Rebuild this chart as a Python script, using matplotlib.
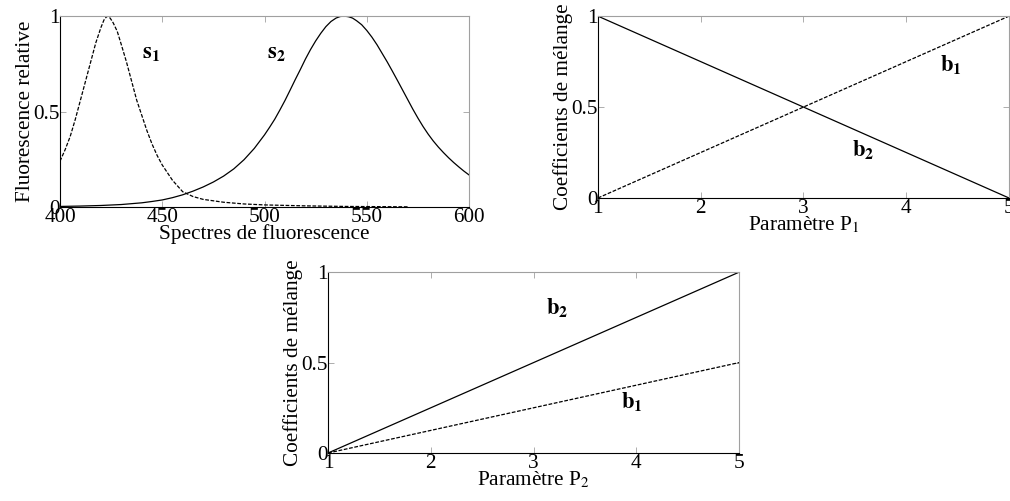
import matplotlib
matplotlib.use('Agg')
import matplotlib.pyplot as plt

plt.rcParams['font.family'] = ['Liberation Serif', 'DejaVu Serif']
plt.rcParams['mathtext.fontset'] = 'stix'

# spectre s1 (pointille)
wl_s1 = [400, 402.5, 405, 407.5, 410, 412.5, 415, 417.5, 420, 421.5, 423, 424.5, 426, 428,
         430, 432.5, 435, 437.5, 440, 442.5, 445, 447.5, 450, 455, 460, 465, 470,
         480, 490, 500, 520, 540, 570]
s1 = [0.24, 0.30, 0.37, 0.46, 0.56, 0.66, 0.76, 0.86, 0.94, 0.98, 1.0, 0.99, 0.965, 0.92,
      0.85, 0.76, 0.66, 0.56, 0.48, 0.40, 0.33, 0.27, 0.22, 0.14, 0.08, 0.055, 0.04,
      0.025, 0.016, 0.011, 0.006, 0.003, 0.001]

# spectre s2 (trait plein)
wl_s2 = [400, 410, 420, 430, 440, 445, 450, 455, 460, 465, 470, 475, 480, 485, 490, 495,
         500, 502.5, 505, 507.5, 510, 512.5, 515, 517.5, 520, 522.5, 525, 527.5, 530,
         532.5, 535, 537, 539, 541, 543, 545, 547.5, 550, 552.5, 555, 557.5, 560, 562.5,
         565, 567.5, 570, 572.5, 575, 577.5, 580, 582.5, 585, 587.5, 590, 592.5, 595,
         597.5, 600]
s2 = [0.003, 0.005, 0.008, 0.013, 0.022, 0.029, 0.037, 0.049, 0.064, 0.083, 0.105, 0.131,
      0.162, 0.2, 0.248, 0.307, 0.378, 0.418, 0.46, 0.508, 0.558, 0.612, 0.667, 0.72,
      0.775, 0.825, 0.87, 0.91, 0.945, 0.972, 0.99, 0.998, 1.0, 0.997, 0.99, 0.976,
      0.955, 0.925, 0.89, 0.85, 0.805, 0.76, 0.712, 0.663, 0.613, 0.563, 0.513, 0.466,
      0.422, 0.382, 0.346, 0.314, 0.285, 0.258, 0.233, 0.21, 0.188, 0.168]

# coefficients de melange
p = [1, 5]
b1_p1 = [0, 1]
b2_p1 = [1, 0]
b1_p2 = [0, 0.5]
b2_p2 = [0, 1]

y_ticks = [0, 0.5, 1]
y_ticklabels = ['0', '0.5', '1']

dash = (0, (3, 1.3))
fs = 15.3


def style(ax):
    for s in ['top', 'right']:
        ax.spines[s].set_color('#a0a0a0')
    for s in ['left', 'bottom']:
        ax.spines[s].set_color('black')
    for s in ax.spines.values():
        s.set_linewidth(0.8)
    ax.tick_params(direction='in', top=True, right=True, length=4, width=0.6,
                   colors='#a0a0a0', labelcolor='black', labelsize=fs)
    ax.tick_params(axis='x', pad=1)
    ax.tick_params(axis='y', pad=0)
    ax.set_yticks(y_ticks)
    ax.set_yticklabels(y_ticklabels)
    ax.set_ylim(0, 1)


fig = plt.figure(figsize=(10.1, 5.01), dpi=100)

ax1 = fig.add_axes([0.0594, 0.5868, 0.405, 0.381])
ax1.plot(wl_s1, s1, color='black', lw=0.9, linestyle=dash)
ax1.plot(wl_s2, s2, color='black', lw=0.9)
ax1.set_xlim(400, 600)
style(ax1)
ax1.set_xticks([400, 450, 500, 550, 600])
ax1.set_xlabel('Spectres de fluorescence', fontsize=fs, labelpad=-2.5)
ax1.set_ylabel('Fluorescence relative', fontsize=fs, labelpad=-1)
ax1.text(440, 0.78, r'$\mathbf{s}_\mathbf{1}$', fontsize=fs + 1)
ax1.text(501, 0.78, r'$\mathbf{s}_\mathbf{2}$', fontsize=fs + 1)

ax2 = fig.add_axes([0.592, 0.6048, 0.407, 0.363])
ax2.plot(p, b1_p1, color='black', lw=0.9, linestyle=dash)
ax2.plot(p, b2_p1, color='black', lw=0.9)
ax2.set_xlim(1, 5)
style(ax2)
ax2.set_xticks([1, 2, 3, 4, 5])
ax2.set_xlabel(r'Paramètre P$_1$', fontsize=fs, labelpad=-2.5)
ax2.set_ylabel('Coefficients de mélange', fontsize=fs, labelpad=-1)
ax2.text(4.33, 0.7, r'$\mathbf{b}_\mathbf{1}$', fontsize=fs + 1)
ax2.text(3.47, 0.23, r'$\mathbf{b}_\mathbf{2}$', fontsize=fs + 1)

ax3 = fig.add_axes([0.3248, 0.0958, 0.407, 0.361])
ax3.plot(p, b2_p2, color='black', lw=0.9)
ax3.plot(p, b1_p2, color='black', lw=0.9, linestyle=dash)
ax3.set_xlim(1, 5)
style(ax3)
ax3.set_xticks([1, 2, 3, 4, 5])
ax3.set_xlabel(r'Paramètre P$_2$', fontsize=fs, labelpad=-2.5)
ax3.set_ylabel('Coefficients de mélange', fontsize=fs, labelpad=-1)
ax3.text(3.12, 0.77, r'$\mathbf{b}_\mathbf{2}$', fontsize=fs + 1)
ax3.text(3.85, 0.25, r'$\mathbf{b}_\mathbf{1}$', fontsize=fs + 1)

fig.savefig('out.png', dpi=100)
